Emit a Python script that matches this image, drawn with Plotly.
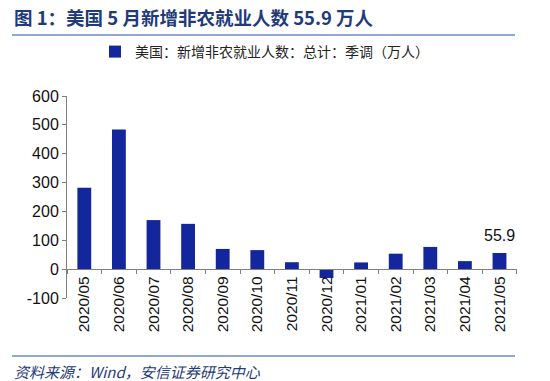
import plotly.graph_objects as go

months = ["2020/05", "2020/06", "2020/07", "2020/08", "2020/09", "2020/10", "2020/11",
          "2020/12", "2021/01", "2021/02", "2021/03", "2021/04", "2021/05"]
payrolls = [282, 484, 170, 157, 70, 66, 24, -30.6, 23.3, 53.6, 77, 27.8, 55.9]
series_name = "美国：新增非农就业人数：总计：季调（万人）"
y_ticks = [-100, 0, 100, 200, 300, 400, 500, 600]
y_tick_text = ["-100", "0", "100", "200", "300", "400", "500", "600"]

BAR = "#13269C"
TITLE = "#1F3B7A"
LINE = "#8FA8D4"
FONT = "Liberation Sans, Arial, Noto Sans CJK SC, sans-serif"
CJK = "Noto Sans CJK SC, sans-serif"

W, H = 550, 381
L, R, T, B = 67, 33, 96, 83
PW, PH = W - L - R, H - T - B


def px_x(px):
    return (px - L) / PW


def px_y(py):
    return 1 - (py - T) / PH


fig = go.Figure()
fig.add_trace(go.Bar(x=months, y=payrolls, name=series_name, marker_color=BAR,
                     marker_line_width=0, xaxis="x", yaxis="y"))
# invisible trace carrying the zero-line category axis with boundary ticks
fig.add_trace(go.Bar(x=months, y=[None] * len(months), showlegend=False,
                     xaxis="x2", yaxis="y", hoverinfo="skip"))

zero_pos = (0 - y_ticks[0]) / (y_ticks[-1] - y_ticks[0])

fig.update_layout(
    width=W, height=H,
    margin=dict(l=L, r=R, t=T, b=B, autoexpand=False),
    paper_bgcolor="white", plot_bgcolor="white",
    bargap=0.6,
    showlegend=True,
    legend=dict(orientation="h", x=px_x(95), xanchor="left", xref="paper",
                y=px_y(52), yanchor="middle",
                font=dict(family=CJK, size=14, color="#222"),
                bgcolor="rgba(0,0,0,0)"),
    xaxis=dict(type="category", showline=False, ticks="", showgrid=False,
               showticklabels=False, zeroline=False, automargin=False),
    xaxis2=dict(type="category", overlaying="x", matches="x", anchor="free",
                position=zero_pos, showline=True, linecolor="#7f7f7f", linewidth=1,
                ticks="outside", ticklen=4, tickcolor="#7f7f7f",
                tickson="boundaries", showticklabels=True, tickangle=-90,
                tickfont=dict(family=FONT, size=15.5, color="#111"),
                showgrid=False, automargin=False),
    yaxis=dict(range=[y_ticks[0], y_ticks[-1]], tickvals=y_ticks, ticktext=y_tick_text,
               showgrid=False, showline=True, linecolor="#7f7f7f", linewidth=1,
               ticks="outside", ticklen=4, tickcolor="#7f7f7f", automargin=False,
               zeroline=False, tickfont=dict(family=FONT, size=16, color="#111")),
)

# title, source and rules
fig.add_annotation(text="<b>图 1：美国 5 月新增非农就业人数 55.9 万人</b>",
                   xref="paper", yref="paper", x=px_x(12), xanchor="left",
                   y=px_y(17), yanchor="middle", showarrow=False,
                   font=dict(family=CJK, size=18.5, color=TITLE))
fig.add_annotation(text="<i>资料来源：Wind，安信证券研究中心</i>",
                   xref="paper", yref="paper", x=px_x(12), xanchor="left",
                   y=px_y(371), yanchor="middle", showarrow=False,
                   font=dict(family=CJK, size=15, color=TITLE))
for yy in (35, 356):
    fig.add_shape(type="line", xref="paper", yref="paper",
                  x0=px_x(12), x1=px_x(515), y0=px_y(yy), y1=px_y(yy),
                  line=dict(color=LINE, width=2))

# value label on last bar
fig.add_annotation(text=f"{payrolls[-1]}", x=months[-1], y=payrolls[-1],
                   xref="x", yref="y", yshift=18, showarrow=False,
                   font=dict(family=FONT, size=16, color="#111"))

fig.write_html("out.html", config={"displayModeBar": False},
               post_script="document.body.style.margin='0';document.body.style.overflow='hidden';")
